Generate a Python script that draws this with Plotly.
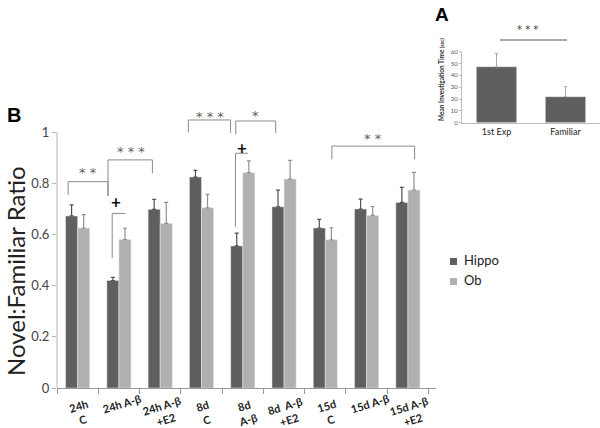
import plotly.graph_objects as go

# ---------------- data ----------------
categories = ["24h C", "24h A-β", "24h A-β +E2", "8d C", "8d A-β", "8d A-β +E2",
              "15d C", "15d A-β", "15d A-β +E2"]
tick_labels = ["24h<br>C", "24h A-β", "24h A-β<br>+E2", "8d<br>C", "8d<br>A-β",
               "8d  A-β<br>+E2", "15d<br>C", "15d A-β", "15d A-β<br>+E2"]
hippo = [0.672, 0.420, 0.698, 0.824, 0.555, 0.708, 0.625, 0.699, 0.725]
hippo_err = [0.043, 0.012, 0.039, 0.026, 0.050, 0.065, 0.034, 0.039, 0.059]
ob = [0.625, 0.580, 0.643, 0.704, 0.841, 0.816, 0.579, 0.674, 0.773]
ob_err = [0.052, 0.044, 0.082, 0.052, 0.046, 0.073, 0.047, 0.035, 0.069]
series_names = ["Hippo", "Ob"]
y_ticks = [0, 0.2, 0.4, 0.6, 0.8, 1]
y_ticktext = ["0", "0.2", "0.4", "0.6", "0.8", "1"]

inset_cats = ["1st Exp", "Familiar"]
inset_vals = [47.3, 22.0]
inset_err = [11.3, 8.4]
inset_ticks = [0, 10, 20, 30, 40, 50, 60]

# significance brackets: (x_left, x_right, y_top, y_left_bottom, y_right_bottom, label, label_x, label_y)
brackets = [
    (-0.23, 0.735, 0.806, 0.754, 0.750, "* *", 0.24, 0.852),
    (0.735, 1.811, 0.891, 0.750, 0.839, "* * *", 1.30, 0.934),
    (2.683, 3.704, 1.047, 0.998, 0.997, "* * *", 3.20, 1.074),
    (3.830, 4.797, 1.043, 0.991, 0.996, "*", 4.32, 1.078),
    (6.158, 8.163, 0.945, 0.893, 0.893, "* *", 7.15, 0.988),
]
# "+" markers: (x_vertical, x_end, y_top, y_bottom, label_x, label_y)
plus_marks = [
    (0.837, 1.156, 0.682, 0.507, 0.93, 0.727),
    (3.823, 4.125, 0.917, 0.630, 3.97, 0.941),
]

# ---------------- layout helpers ----------------
W, H = 600, 428
ML, MR, MT, MB = 57, 0, 5, 40
PW, PH = W - ML - MR, H - MT - MB


def px(xp):
    return (xp - ML) / PW


def py(yp):
    return (H - MB - yp) / PH


DARK = "#5f5f5f"
LIGHT = "#b0b0b0"
FONT = "Lato"
STAR_FONT = "DejaVu Sans"

fig = go.Figure()
fig.add_trace(go.Bar(
    x=categories, y=hippo, name=series_names[0], marker_color=DARK,
    error_y=dict(type="data", array=hippo_err, arrayminus=[0] * len(hippo),
                 symmetric=False, color="#505050", thickness=1.2, width=2),
    showlegend=False, xaxis="x", yaxis="y"))
fig.add_trace(go.Bar(
    x=categories, y=ob, name=series_names[1], marker_color=LIGHT,
    error_y=dict(type="data", array=ob_err, arrayminus=[0] * len(ob),
                 symmetric=False, color="#909090", thickness=1.2, width=2),
    showlegend=False, xaxis="x", yaxis="y"))

fig.add_trace(go.Bar(
    x=inset_cats, y=inset_vals, marker_color=DARK,
    error_y=dict(type="data", array=inset_err, arrayminus=[0, 0], symmetric=False,
                 color="#a8a8a8", thickness=1, width=1.5),
    showlegend=False, xaxis="x2", yaxis="y2"))

shapes = []
annotations = []
LINE = dict(color="#8a8a8a", width=1)
for (xl, xr, yt, ylb, yrb, lab, lx, ly) in brackets:
    shapes.append(dict(type="line", xref="x", yref="y", x0=xl, x1=xr, y0=yt, y1=yt, line=LINE))
    shapes.append(dict(type="line", xref="x", yref="y", x0=xl, x1=xl, y0=yt, y1=ylb, line=LINE))
    shapes.append(dict(type="line", xref="x", yref="y", x0=xr, x1=xr, y0=yt, y1=yrb, line=LINE))
    annotations.append(dict(x=lx, y=ly, xref="x", yref="y", text=lab, showarrow=False,
                            font=dict(family=STAR_FONT, size=13, color="#606060"),
                            xanchor="center", yanchor="middle", yshift=-3))
for (xv, xe, yt, yb, lx, ly) in plus_marks:
    shapes.append(dict(type="line", xref="x", yref="y", x0=xv, x1=xe, y0=yt, y1=yt, line=LINE))
    shapes.append(dict(type="line", xref="x", yref="y", x0=xv, x1=xv, y0=yt, y1=yb, line=LINE))
    annotations.append(dict(x=lx, y=ly, xref="x", yref="y", text="<b>+</b>", showarrow=False,
                            font=dict(family=FONT, size=17, color="#111111"),
                            xanchor="center", yanchor="middle"))

# main y-axis line from 0 to 1
shapes.append(dict(type="line", xref="paper", yref="y", x0=0, x1=0, y0=0, y1=1,
                   line=dict(color="#b8b8b8", width=1)))

# x tick labels (rotated)
for i, lab in enumerate(tick_labels):
    nlines = lab.count("<br>") + 1
    annotations.append(dict(x=i, y=0, xref="x", yref="paper", text="<b>" + lab + "</b>",
                            showarrow=False, textangle=-17, xanchor="center", yanchor="middle",
                            xshift=3, yshift=-15 if nlines == 1 else -24,
                            font=dict(family=FONT, size=11, color="#222222")))

# legend (manual)
legend_cols = [DARK, LIGHT]
for k, name in enumerate(series_names):
    cy = 261.5 + 20 * k
    shapes.append(dict(type="rect", xref="paper", yref="paper",
                       x0=px(450), x1=px(457), y0=py(cy - 3.5), y1=py(cy + 3.5),
                       fillcolor=legend_cols[k], line=dict(width=0)))
    annotations.append(dict(x=px(462), y=py(cy - 1.5), xref="paper", yref="paper", text=name,
                            showarrow=False, xanchor="left", yanchor="middle",
                            font=dict(family=FONT, size=13, color="#222222")))

# y-axis title
annotations.append(dict(x=px(16), y=py(271), xref="paper", yref="paper",
                        text="Novel:Familiar Ratio", textangle=-90, showarrow=False,
                        xanchor="center", yanchor="middle",
                        font=dict(family=FONT, size=24, color="#222222")))
# panel letters
annotations.append(dict(x=px(14), y=py(115), xref="paper", yref="paper", text="<b>B</b>",
                        showarrow=False, xanchor="center", yanchor="middle",
                        font=dict(family="Liberation Sans", size=20, color="#000")))
annotations.append(dict(x=px(442), y=py(14), xref="paper", yref="paper", text="<b>A</b>",
                        showarrow=False, xanchor="center", yanchor="middle",
                        font=dict(family="Liberation Sans", size=19, color="#000")))

# inset significance
shapes.append(dict(type="line", xref="paper", yref="paper", x0=px(500), x1=px(567),
                   y0=py(40), y1=py(40), line=dict(color="#555555", width=1)))
annotations.append(dict(x=px(527), y=py(28), xref="paper", yref="paper", text="* * *",
                        showarrow=False, xanchor="center", yanchor="middle", yshift=-2,
                        font=dict(family=STAR_FONT, size=10, color="#444444")))
# inset y title
annotations.append(dict(x=px(442), y=py(79), xref="paper", yref="paper",
                        text="<b>Mean Investigation Time <span style='font-size:5px'>(sec)</span></b>",
                        textangle=-90, showarrow=False, xanchor="center", yanchor="middle",
                        font=dict(family=FONT, size=6.5, color="#333333")))

fig.update_layout(
    width=W, height=H,
    margin=dict(l=ML, r=MR, t=MT, b=MB),
    paper_bgcolor="white", plot_bgcolor="white",
    barmode="group", bargap=0.415, bargroupgap=0,
    showlegend=False,
    font=dict(family=FONT, color="#333333"),
    xaxis=dict(domain=[0, px(436)], type="category", showticklabels=False,
               ticks="outside", tickson="boundaries", ticklen=5, tickcolor="#999999",
               showline=True, linecolor="#999999", linewidth=1, showgrid=False,
               zeroline=False, anchor="y"),
    yaxis=dict(domain=[0, py(388 - 256 * 1.1)], range=[0, 1.1], tickvals=y_ticks,
               ticktext=y_ticktext, ticks="outside", ticklen=4, tickcolor="#b8b8b8",
               showline=False, showgrid=False, zeroline=False,
               tickfont=dict(family=FONT, size=13, color="#444444"), anchor="x"),
    xaxis2=dict(domain=[px(462), 1.0], type="category", anchor="y2", showline=True,
                linecolor="#bbbbbb", linewidth=1, showgrid=False, ticks="",
                tickfont=dict(family=FONT, size=9, color="#222222")),
    yaxis2=dict(domain=[py(122.7), py(51.7)], range=[0, 60], tickvals=inset_ticks,
                anchor="x2", showline=True, linecolor="#bbbbbb", linewidth=1,
                ticks="outside", ticklen=2, tickcolor="#bbbbbb", showgrid=False,
                zeroline=False, tickfont=dict(family=FONT, size=6, color="#555555")),
    shapes=shapes,
    annotations=annotations,
)
fig.write_html("out.html", config={"displayModeBar": False},
               post_script="document.body.style.margin='0px';")
